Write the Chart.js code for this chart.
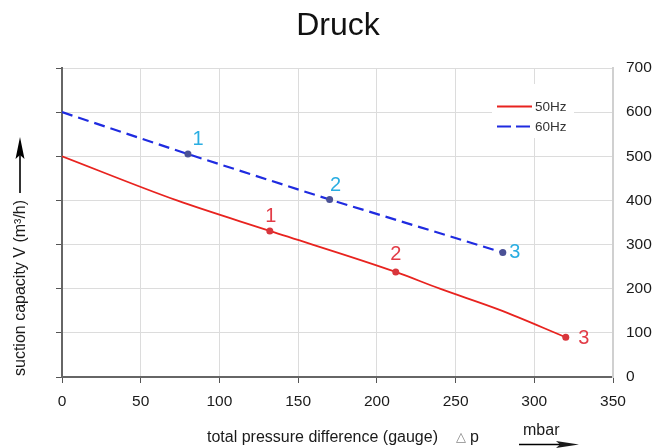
<!DOCTYPE html>
<html>
<head>
<meta charset="utf-8">
<script src="https://cdn.jsdelivr.net/npm/chart.js@4"></script>
<style>
  html, body { margin: 0; padding: 0; background: #fff; }
  #wrap { width: 667px; height: 448px; position: relative; }
</style>
</head>
<body>
<div id="wrap"><canvas id="c" width="667" height="448"></canvas></div>
<script>
// ---- data ----
const title = "Druck";
const series50Name = "50Hz";
const series60Name = "60Hz";
const p50 = [0, 73, 132, 212, 240, 278, 320];          // mbar
const v50 = [500, 400, 331, 238, 200, 152, 90];        // m³/h
const mark50 = [2, 3, 6];                               // indices of labelled points
const p60 = [0, 80, 170, 280];
const v60 = [600, 505, 402, 282];
const mark60 = [1, 2, 3];
const markLabels = ["1", "2", "3"];
const xTicks = [0, 50, 100, 150, 200, 250, 300, 350];
const yTicks = [0, 100, 200, 300, 400, 500, 600, 700];
const yTitle = "suction capacity V (m³/h)";
const xTitle = "total pressure difference (gauge)";
const xSymbol = "△";
const xSymbolVar = "p";
const xUnit = "mbar";

// ---- styles ----
const FONT = '"Liberation Sans", Arial, Helvetica, sans-serif';
const RED = '#e8231f', BLUE = '#1f2be0';
const RED_PT = '#d8363c', BLUE_PT = '#4a5196';
const RED_LBL = '#e23c47', BLUE_LBL = '#2aaee2';
const off50 = [[1, -14], [0, -17], [18, 1]];
const off60 = [[10, -15], [6, -14], [12, 0]];

const toXY = (xs, ys) => xs.map((x, i) => ({ x: x, y: ys[i] }));
const radii = (n, marks) => Array.from({ length: n }, (_, i) => marks.includes(i) ? 3.5 : 0);

const decor = {
  id: 'decor',
  afterDraw(chart) {
    const ctx = chart.ctx;
    ctx.save();
    // title
    ctx.fillStyle = '#111';
    ctx.font = '32px ' + FONT;
    ctx.textAlign = 'center';
    ctx.textBaseline = 'alphabetic';
    ctx.fillText(title, 338, 35);

    // point labels
    ctx.font = '20px ' + FONT;
    ctx.textAlign = 'center';
    ctx.textBaseline = 'middle';
    const m0 = chart.getDatasetMeta(0), m1 = chart.getDatasetMeta(1);
    mark50.forEach((idx, k) => {
      const el = m0.data[idx];
      ctx.fillStyle = RED_LBL;
      ctx.fillText(markLabels[k], el.x + off50[k][0], el.y + off50[k][1]);
    });
    mark60.forEach((idx, k) => {
      const el = m1.data[idx];
      ctx.fillStyle = BLUE_LBL;
      ctx.fillText(markLabels[k], el.x + off60[k][0], el.y + off60[k][1]);
    });

    // legend
    ctx.fillStyle = '#fff';
    ctx.fillRect(492, 84, 82, 54);
    ctx.lineWidth = 2;
    ctx.strokeStyle = RED;
    ctx.setLineDash([]);
    ctx.beginPath(); ctx.moveTo(497, 106.5); ctx.lineTo(532, 106.5); ctx.stroke();
    ctx.strokeStyle = BLUE;
    ctx.setLineDash([14, 5]);
    ctx.beginPath(); ctx.moveTo(497, 126.5); ctx.lineTo(530, 126.5); ctx.stroke();
    ctx.setLineDash([]);
    ctx.fillStyle = '#333';
    ctx.font = '13.5px ' + FONT;
    ctx.textAlign = 'left';
    ctx.textBaseline = 'middle';
    ctx.fillText(series50Name, 535, 107);
    ctx.fillText(series60Name, 535, 127);

    // y title (rotated) with arrow
    ctx.fillStyle = '#1a1a1a';
    ctx.font = '16px ' + FONT;
    ctx.save();
    ctx.translate(21, 376);
    ctx.rotate(-Math.PI / 2);
    ctx.textAlign = 'left';
    ctx.textBaseline = 'middle';
    ctx.fillText(yTitle, 0, 0);
    ctx.restore();
    ctx.strokeStyle = '#000';
    ctx.lineWidth = 1.6;
    ctx.beginPath(); ctx.moveTo(20, 193); ctx.lineTo(20, 152); ctx.stroke();
    ctx.fillStyle = '#000';
    ctx.beginPath(); ctx.moveTo(20, 137); ctx.lineTo(15.5, 159); ctx.lineTo(20, 155); ctx.lineTo(24.5, 159); ctx.closePath(); ctx.fill();

    // x title
    ctx.fillStyle = '#1a1a1a';
    ctx.font = '16px ' + FONT;
    ctx.textAlign = 'left';
    ctx.textBaseline = 'alphabetic';
    ctx.fillText(xTitle, 207, 442);
    ctx.fillStyle = '#888';
    ctx.font = '13px "DejaVu Sans", sans-serif';
    ctx.fillText(xSymbol, 456, 441);
    ctx.fillStyle = '#1a1a1a';
    ctx.font = '16px ' + FONT;
    ctx.fillText(xSymbolVar, 470, 442);
    ctx.fillText(xUnit, 523, 435);
    ctx.strokeStyle = '#000';
    ctx.lineWidth = 1.6;
    ctx.beginPath(); ctx.moveTo(519, 444.5); ctx.lineTo(565, 444.5); ctx.stroke();
    ctx.beginPath(); ctx.moveTo(579, 444.5); ctx.lineTo(556, 441); ctx.lineTo(560, 444.5); ctx.lineTo(556, 448); ctx.closePath(); ctx.fill();
    ctx.restore();
  }
};

new Chart(document.getElementById('c'), {
  type: 'line',
  data: {
    datasets: [
      {
        label: series50Name,
        data: toXY(p50, v50),
        borderColor: RED,
        borderWidth: 1.8,
        pointRadius: radii(p50.length, mark50),
        pointBackgroundColor: RED_PT,
        pointBorderColor: RED_PT,
        pointBorderWidth: 0,
        cubicInterpolationMode: 'monotone',
        fill: false
      },
      {
        label: series60Name,
        data: toXY(p60, v60),
        borderColor: BLUE,
        borderWidth: 2.2,
        borderDash: [11, 6],
        pointRadius: radii(p60.length, mark60),
        pointBackgroundColor: BLUE_PT,
        pointBorderColor: BLUE_PT,
        pointBorderWidth: 0,
        tension: 0,
        fill: false
      }
    ]
  },
  options: {
    responsive: false,
    animation: false,
    devicePixelRatio: 1,
    layout: { padding: { top: 68, left: 0, right: 0, bottom: 0 } },
    plugins: { legend: { display: false }, title: { display: false }, tooltip: { enabled: false } },
    scales: {
      x: {
        type: 'linear',
        min: xTicks[0], max: xTicks[xTicks.length - 1],
        afterBuildTicks: s => { s.ticks = xTicks.map(v => ({ value: v })); },
        afterFit: s => { s.height = 71; },
        grid: { color: '#dcdcdc', lineWidth: 1, tickColor: '#555', tickLength: 6 },
        border: { color: '#666', width: 2 },
        ticks: { color: '#1a1a1a', font: { family: FONT, size: 15.5 }, padding: 9, maxRotation: 0, autoSkip: false }
      },
      y: {
        position: 'left',
        min: yTicks[0], max: yTicks[yTicks.length - 1],
        afterBuildTicks: s => { s.ticks = yTicks.map(v => ({ value: v })); },
        afterFit: s => { s.width = 62; },
        grid: { color: '#dcdcdc', lineWidth: 1, tickColor: '#555', tickLength: 6 },
        border: { color: '#666', width: 2 },
        ticks: { display: false }
      },
      y2: {
        position: 'right',
        min: yTicks[0], max: yTicks[yTicks.length - 1],
        afterBuildTicks: s => { s.ticks = yTicks.map(v => ({ value: v })); },
        afterFit: s => { s.width = 54; },
        grid: { display: false, drawTicks: false },
        border: { color: '#d0d0d0', width: 2 },
        ticks: { color: '#1a1a1a', font: { family: FONT, size: 15.5 }, padding: 13 }
      }
    }
  },
  plugins: [decor]
});
</script>
</body>
</html>
